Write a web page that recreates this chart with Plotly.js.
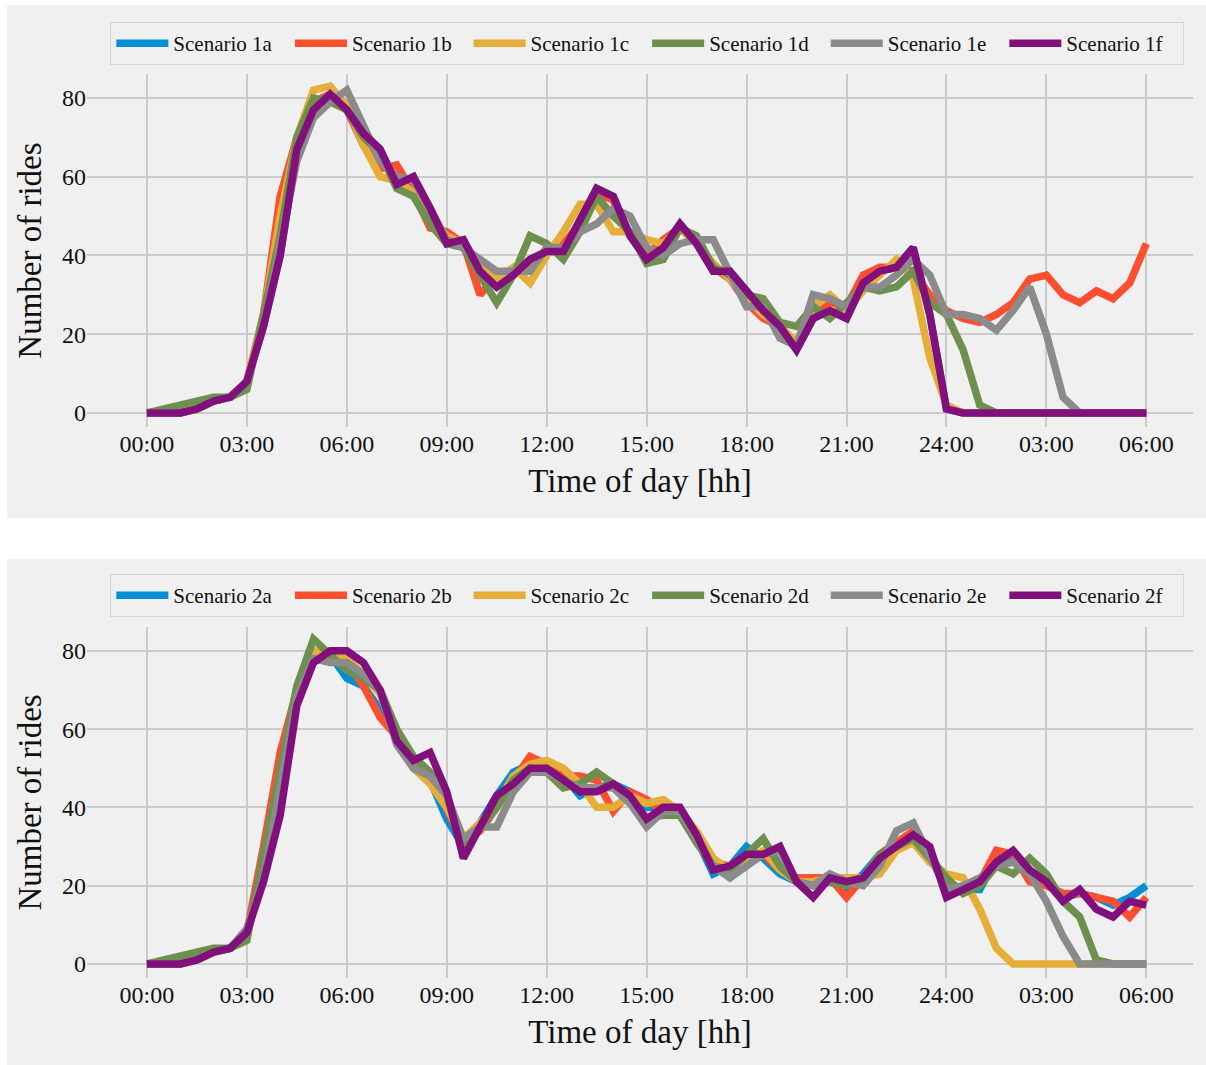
<!DOCTYPE html>
<html>
<head>
<meta charset="utf-8">
<script src="https://cdn.plot.ly/plotly-3.0.1.min.js"></script>
<style>
  html, body { margin: 0; padding: 0; background: #ffffff; }
  #chart { width: 1206px; height: 1065px; }
</style>
</head>
<body>
<div id="chart"></div>
<script>
// time of day in hours (half-hour steps, 00:00 to 06:00 next day)
const hours = [0,0.5,1,1.5,2,2.5,3,3.5,4,4.5,5,5.5,6,6.5,7,7.5,8,8.5,9,9.5,
  10,10.5,11,11.5,12,12.5,13,13.5,14,14.5,15,15.5,16,16.5,17,17.5,18,18.5,19,19.5,
  20,20.5,21,21.5,22,22.5,23,23.5,24,24.5,25,25.5,26,26.5,27,27.5,28,28.5,29,29.5,30];
const tickHours = [0,3,6,9,12,15,18,21,24,27,30];
const tickLabels = ["00:00","03:00","06:00","09:00","12:00","15:00","18:00","21:00","24:00","03:00","06:00"];
const yTicks = [0,20,40,60,80];

const names1 = ["Scenario 1a","Scenario 1b","Scenario 1c","Scenario 1d","Scenario 1e","Scenario 1f"];
const names2 = ["Scenario 2a","Scenario 2b","Scenario 2c","Scenario 2d","Scenario 2e","Scenario 2f"];

// Panel 1
const s1a = [0,0,0,1,3,4,8,22,40,67, 77,81,77,71,67,58,60,52,43,44, 36,32,35,39,41,41,49,57,55,45, 39,42,48,43,36,36,31,26,22,16, 24,26,24,33,36,37,42,25,1,0, 0,0,0,0,0,0,0,0,0,0, 0];
const s1b = [0,0,0,1,3,4,8,25,55,70, 79,81,77,68,62,63,56,47,46,43, 30,35,36,38,41,43,48,56,54,45, 40,44,47,43,37,34,28,24,22,17, 25,28,27,35,37,37,36,30,26,24, 23,25,28,34,35,30,28,31,29,33, 43];
const s1c = [0,0,0,1,3,4,8,25,50,70, 82,83,78,68,60,59,56,49,45,43, 37,34,37,33,40,46,53,53,46,46, 44,43,47,43,38,34,29,25,22,18, 27,30,26,31,35,39,34,14,2,0, 0,0,0,0,0,0,0,0,0,0, 0];
const s1d = [0,1,2,3,4,4,6,25,45,70, 80,79,77,70,66,57,55,48,43,42, 35,28,35,45,43,39,46,55,50,46, 38,39,47,45,37,35,30,29,23,22, 27,24,28,32,31,32,36,28,25,16, 2,0,0,0,0,0,0,0,0,0, 0];
const s1e = [0,0,0,1,3,4,8,22,42,64, 75,79,82,73,64,60,59,52,44,42, 39,36,36,36,42,42,46,48,52,50, 42,40,43,44,44,35,27,27,19,17, 30,29,27,32,32,35,39,35,25,25, 24,21,26,32,20,4,0,0,0,0, 0];
const s1f = [0,0,0,1,3,4,8,22,40,67, 77,81,77,71,67,58,60,52,43,44, 36,32,35,39,41,41,49,57,55,45, 39,42,48,43,36,36,31,26,22,16, 24,26,24,33,36,37,42,25,1,0, 0,0,0,0,0,0,0,0,0,0, 0];

// Panel 2
const s2a = [0,0,0,1,3,4,8,24,45,70, 79,79,73,71,65,58,52,47,37,30, 36,43,49,51,51,48,43,45,46,44, 40,40,38,32,23,25,30,27,23,21, 20,21,19,23,28,31,33,28,21,19, 19,27,27,24,21,17,18,17,15,17, 20];
const s2b = [0,0,0,1,3,4,8,30,54,70, 80,79,77,71,63,58,52,48,40,31, 34,40,47,53,51,48,48,47,39,44, 42,39,39,33,26,25,28,28,24,22, 22,22,17,22,28,31,34,28,20,19, 21,29,28,21,20,18,18,17,16,12, 17];
const s2c = [0,0,0,1,3,4,8,24,45,68, 80,79,78,74,69,58,50,46,40,32, 36,41,48,51,52,50,46,40,40,43, 41,42,39,34,27,24,26,29,24,21, 21,22,22,22,23,29,31,26,23,22, 14,4,0,0,0,0,0,0,0,0, 0];
const s2d = [0,1,2,3,4,4,6,28,50,71, 83,79,75,73,70,60,53,49,43,29, 35,40,47,50,49,45,46,49,46,41, 37,38,38,31,25,24,28,32,25,21, 20,21,20,22,28,30,32,27,22,18, 20,25,23,27,23,16,12,1,0,0, 0];
const s2e = [0,0,0,1,3,4,9,22,45,68, 78,77,77,74,70,56,50,48,43,32, 35,35,44,49,49,47,45,45,45,41, 35,39,39,32,25,22,25,28,29,21, 20,23,21,20,25,34,36,28,19,20, 22,25,26,23,16,7,0,0,0,0, 0];
const s2f = [0,0,0,1,3,4,8,21,38,66, 77,80,80,77,70,57,52,54,44,27, 35,43,46,50,50,47,44,44,46,43, 37,40,40,33,24,25,28,28,30,21, 17,22,21,22,27,30,33,30,17,19, 21,26,29,24,21,16,19,14,12,16, 15];

const colors = ["#008fd5","#fc4f30","#e5ae38","#6d904f","#8b8b8b","#810f7c"];
const panel1 = [s1a,s1b,s1c,s1d,s1e,s1f];
const panel2 = [s2a,s2b,s2c,s2d,s2e,s2f];

const FONT = "Liberation Serif";
const traces = [];
panel1.forEach((ys, i) => traces.push({
  x: hours, y: ys, name: names1[i], type: "scatter", mode: "lines",
  line: {color: colors[i], width: 7.5}, xaxis: "x", yaxis: "y", legend: "legend"
}));
panel2.forEach((ys, i) => traces.push({
  x: hours, y: ys, name: names2[i], type: "scatter", mode: "lines",
  line: {color: colors[i], width: 7.5}, xaxis: "x2", yaxis: "y2", legend: "legend2"
}));

function xAxis(anchor) {
  return {
    domain: [0.0721, 0.9892], anchor: anchor, range: [-1.8, 31.4],
    tickmode: "array", tickvals: tickHours, ticktext: tickLabels,
    showgrid: true, gridcolor: "#cbcbcb", gridwidth: 2, zeroline: false, showline: false,
    ticks: "", tickfont: {family: FONT, size: 24, color: "#111"},
    title: {text: "Time of day [hh]", font: {family: FONT, size: 33, color: "#111"}, standoff: 12},
    automargin: false
  };
}
function yAxis(anchor, dom) {
  return {
    domain: dom, anchor: anchor, range: [-3.6, 86.1],
    tickmode: "array", tickvals: yTicks,
    showgrid: true, gridcolor: "#cbcbcb", gridwidth: 2, zeroline: false, showline: false,
    ticks: "", tickfont: {family: FONT, size: 24, color: "#111"},
    title: {text: "Number of rides", font: {family: FONT, size: 33, color: "#111"}, standoff: 10},
    automargin: false
  };
}
function legendBox(ytop) {
  return {
    x: 0.0915, y: ytop, xanchor: "left", yanchor: "top", orientation: "h",
    bgcolor: "#f0f0f0", bordercolor: "#d5d5d5", borderwidth: 1,
    font: {family: FONT, size: 21, color: "#111"},
    entrywidth: 111.6, entrywidthmode: "pixels", itemwidth: 52, tracegroupgap: 0
  };
}

const layout = {
  width: 1206, height: 1065,
  margin: {l: 0, r: 0, t: 0, b: 0, autoexpand: false},
  paper_bgcolor: "#ffffff", plot_bgcolor: "rgba(0,0,0,0)",
  font: {family: FONT, color: "#111"},
  xaxis: xAxis("y"), yaxis: yAxis("x", [0.599, 0.9305]),
  xaxis2: xAxis("y2"), yaxis2: yAxis("x2", [0.0817, 0.4113]),
  legend: legendBox(0.9793),
  legend2: legendBox(0.461),
  showlegend: true,
  shapes: [
    {type: "rect", xref: "paper", yref: "paper", x0: 0.006, x1: 1, y0: 1 - 518/1065, y1: 1 - 5/1065,
     fillcolor: "#f0f0f0", line: {width: 0}, layer: "below"},
    {type: "rect", xref: "paper", yref: "paper", x0: 0.006, x1: 1, y0: 0, y1: 1 - 559/1065,
     fillcolor: "#f0f0f0", line: {width: 0}, layer: "below"}
  ]
};

Plotly.newPlot("chart", traces, layout, {displayModeBar: false, staticPlot: true});
</script>
</body>
</html>
